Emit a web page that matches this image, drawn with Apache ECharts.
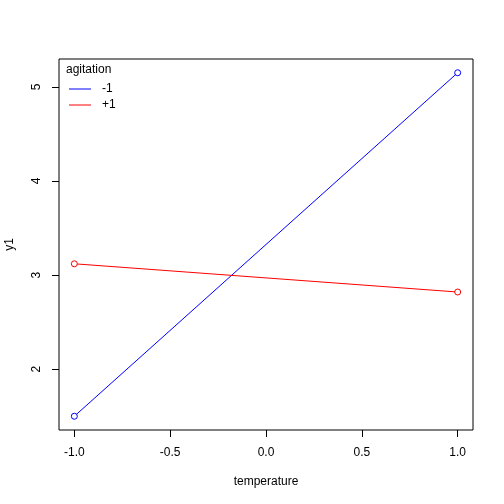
<!DOCTYPE html>
<html>
<head>
<meta charset="utf-8">
<script src="https://cdn.jsdelivr.net/npm/echarts@6/dist/echarts.min.js"></script>
<style>
  html, body { margin: 0; padding: 0; background: #fff; }
  #chart { width: 504px; height: 504px; }
</style>
</head>
<body>
<div id="chart"></div>
<script>
// levels of temperature on the x axis
var temperature = [-1, 1];
// mean y1 for each agitation level
var agitationMinus = [1.50, 5.15];
var agitationPlus = [3.12, 2.82];
var xTicks = [-1, -0.5, 0, 0.5, 1];
var yTicks = [2, 3, 4, 5];

var font = 'Liberation Sans, Arial, sans-serif';

function pairs(xs, ys) {
    var out = [];
    for (var i = 0; i < xs.length; i++) {
        out.push([xs[i], ys[i]]);
    }
    return out;
}

var myChart = echarts.init(document.getElementById('chart'), null, { renderer: 'canvas' });
var option = {
    animation: false,
    backgroundColor: '#fff',
    textStyle: { fontFamily: font },
    grid: {
        left: 59, right: 31, top: 59, bottom: 74,
        outerBoundsMode: 'none',
        containLabel: false,
        show: true,
        borderColor: '#000',
        borderWidth: 1,
        backgroundColor: 'transparent'
    },
    graphic: [
        {
            type: 'text', left: 66, top: 64,
            style: { text: 'agitation', font: '12px ' + font, fill: '#000' }
        }
    ],
    legend: {
        orient: 'vertical',
        left: 69, top: 83,
        padding: 0,
        itemWidth: 22, itemHeight: 1,
        itemGap: 4,
        textStyle: { fontSize: 12, color: '#000', fontFamily: font, padding: [0, 0, 0, 6] },
        data: [
            { name: '-1', icon: 'rect', itemStyle: { color: '#0000FF', borderWidth: 0 } },
            { name: '+1', icon: 'rect', itemStyle: { color: '#FF0000', borderWidth: 0 } }
        ]
    },
    xAxis: {
        type: 'value',
        min: -1.08, max: 1.08,
        name: 'temperature',
        nameLocation: 'middle',
        nameGap: 46,
        nameTextStyle: { fontSize: 12, color: '#000', fontFamily: font },
        axisLine: { show: false, onZero: false },
        splitLine: { show: false },
        axisTick: {
            show: true, inside: false, length: 7,
            lineStyle: { color: '#000' },
            customValues: xTicks
        },
        axisLabel: {
            color: '#000', fontSize: 12, margin: 17,
            customValues: xTicks,
            formatter: function (v) { return v.toFixed(1); }
        }
    },
    yAxis: {
        type: 'value',
        min: 1.354, max: 5.296,
        name: 'y1',
        nameLocation: 'middle',
        nameGap: 43,
        nameRotate: 90,
        nameTextStyle: { fontSize: 12, color: '#000', fontFamily: font },
        axisLine: { show: false, onZero: false },
        splitLine: { show: false },
        axisTick: {
            show: true, inside: false, length: 7,
            lineStyle: { color: '#000' },
            customValues: yTicks
        },
        axisLabel: {
            color: '#000', fontSize: 12, margin: 16,
            rotate: 90,
            customValues: yTicks,
            formatter: function (v) { return String(v); }
        }
    },
    series: [
        {
            name: '-1',
            type: 'line',
            data: pairs(temperature, agitationMinus),
            color: '#0000FF',
            lineStyle: { width: 1, color: '#0000FF' },
            symbol: 'circle',
            symbolSize: 6,
            itemStyle: { color: '#fff', borderColor: '#0000FF', borderWidth: 1 }
        },
        {
            name: '+1',
            type: 'line',
            data: pairs(temperature, agitationPlus),
            color: '#FF0000',
            lineStyle: { width: 1, color: '#FF0000' },
            symbol: 'circle',
            symbolSize: 6,
            itemStyle: { color: '#fff', borderColor: '#FF0000', borderWidth: 1 }
        }
    ]
};
myChart.setOption(option);
</script>
</body>
</html>
